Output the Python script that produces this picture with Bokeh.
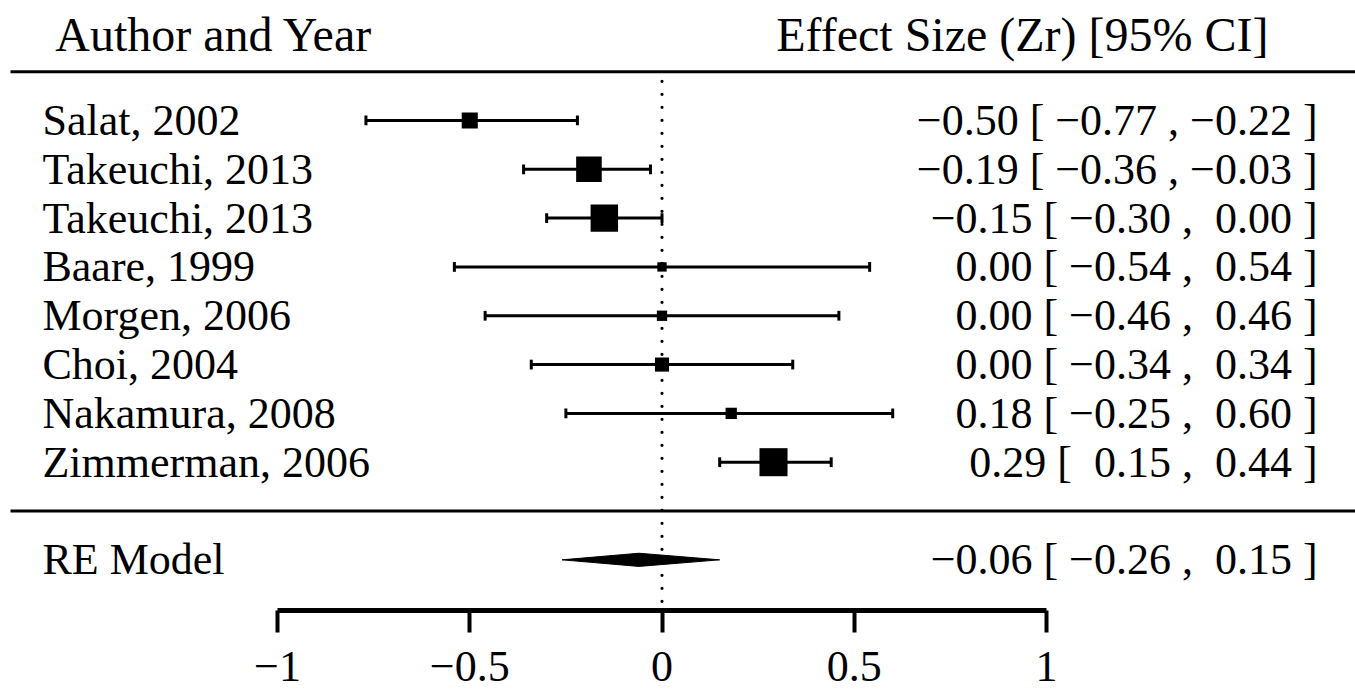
import math
from bokeh.plotting import figure
from bokeh.models import Range1d, LinearAxis, FixedTicker
from bokeh.core.properties import value
from bokeh.embed import file_html
from bokeh.resources import INLINE

# Study data (Fisher's Zr with 95% CI) and relative weights (%)
studies = ["Salat, 2002", "Takeuchi, 2013", "Takeuchi, 2013", "Baare, 1999",
           "Morgen, 2006", "Choi, 2004", "Nakamura, 2008", "Zimmerman, 2006"]
estimates = [-0.50, -0.19, -0.15, 0.00, 0.00, 0.00, 0.18, 0.29]
ci_lower = [-0.77, -0.36, -0.30, -0.54, -0.46, -0.34, -0.25, 0.15]
ci_upper = [-0.22, -0.03, 0.00, 0.54, 0.46, 0.34, 0.60, 0.44]
weights = [11.1, 18.9, 20.4, 5.6, 6.4, 9.5, 7.2, 20.9]

# Random-effects pooled estimate
re_label = "RE Model"
re_est, re_lower, re_upper = -0.06, -0.26, 0.15

tick_values = [-1, -0.5, 0, 0.5, 1]
tick_labels = ["\u22121", "\u22120.5", "0", "0.5", "1"]

header_left = "Author and Year"
header_right = "Effect Size (Zr) [95% CI]"

FONT = value("Liberation Serif")
FS = "44px"

k = len(studies)
rows = list(range(k, 0, -1))          # studies at rows k..1
re_row = -1


def fmt(v):
    s = "%.2f" % abs(v)
    return ("\u2212" + s) if v < 0 else ("\u00a0" + s)


def annot(e, lo, hi):
    return "%s [ %s , %s ]" % (fmt(e).lstrip("\u00a0"), fmt(lo), fmt(hi))


# square sizes scaled from weights (0.5 .. 1.5 relative size)
wmin, wmax = min(weights), max(weights)
sizes = [18.7 * (0.5 + (w - wmin) / (wmax - wmin)) for w in weights]

p = figure(width=1355, height=689, output_backend="svg", toolbar_location=None,
           x_range=Range1d(-1.7204, 1.8036), y_range=Range1d(-2.038, 10.458),
           x_axis_location=None, y_axis_location=None,
           min_border_left=0, min_border_right=0, min_border_top=0,
           min_border_bottom=79)
p.outline_line_color = None
p.xgrid.visible = False
p.ygrid.visible = False
p.background_fill_color = "white"
p.border_fill_color = "white"

# bottom axis
ax = LinearAxis(ticker=FixedTicker(ticks=tick_values), bounds=(-1, 1))
ax.major_label_overrides = {t: l for t, l in zip(tick_values, tick_labels)}
ax.axis_line_width = 5
ax.axis_line_color = "black"
ax.major_tick_line_width = 4
ax.major_tick_in = 0
ax.major_tick_out = 22
ax.minor_tick_line_color = None
ax.major_label_text_font = "Liberation Serif"
ax.major_label_text_font_size = FS
ax.major_label_text_color = "black"
ax.major_label_standoff = 19
p.add_layout(ax, "below")

# horizontal separators
p.segment(x0=[-1.6944, -1.6944], x1=[1.81, 1.81], y0=[k + 1, 0], y1=[k + 1, 0],
          line_color="black", line_width=3)

# dotted reference line at zero
p.segment(x0=[0], x1=[0], y0=[-1.85], y1=[k + 0.9], line_color="black",
          line_width=3.2, line_dash="0 13", line_cap="round")

# confidence intervals with end caps
p.segment(x0=ci_lower, x1=ci_upper, y0=rows, y1=rows, line_color="black", line_width=3)
cap = 0.1
p.segment(x0=ci_lower, x1=ci_lower, y0=[r - cap for r in rows], y1=[r + cap for r in rows],
          line_color="black", line_width=3)
p.segment(x0=ci_upper, x1=ci_upper, y0=[r - cap for r in rows], y1=[r + cap for r in rows],
          line_color="black", line_width=3)

# point estimates
p.scatter(x=estimates, y=rows, size=sizes, marker="square", fill_color="black",
          line_color="black", line_width=0)

# pooled diamond
h = 0.135
p.patch(x=[re_lower, re_est, re_upper, re_est], y=[re_row, re_row + h, re_row, re_row - h],
        fill_color="black", line_color="black", line_width=1)

# study labels
label_x = -1.6112
p.text(x=[label_x] * (k + 1), y=rows + [re_row], text=studies + [re_label],
       text_font=FONT, text_font_size=FS, text_align="left", text_baseline="middle",
       text_color="black")

# effect size annotations
val_x = 1.705
ann = [annot(e, lo, hi) for e, lo, hi in zip(estimates, ci_lower, ci_upper)]
ann.append(annot(re_est, re_lower, re_upper))
p.text(x=[val_x] * (k + 1), y=rows + [re_row], text=ann,
       text_font=FONT, text_font_size=FS, text_align="right", text_baseline="middle",
       text_color="black")

# headers
p.text(x=[-1.578], y=[9.76], text=[header_left], text_font=FONT, text_font_size="48px",
       text_align="left", text_baseline="middle", text_color="black")
p.text(x=[1.5774], y=[9.76], text=[header_right], text_font=FONT, text_font_size="48px",
       text_align="right", text_baseline="middle", text_color="black")

open("out.html", "w").write(file_html(p, INLINE))
